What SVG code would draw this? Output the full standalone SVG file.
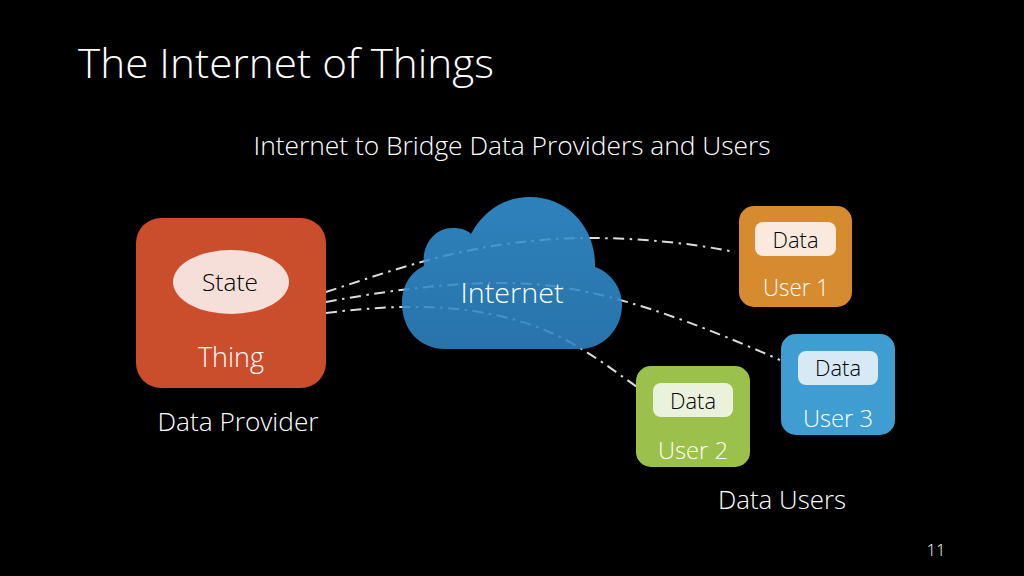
<svg xmlns="http://www.w3.org/2000/svg" width="1024" height="576" viewBox="0 0 1024 576">
<style>
text{font-family:"Open Sans","Noto Sans","Liberation Sans",sans-serif;font-weight:300;fill:#fff;text-anchor:middle}
.dk{fill:#000;font-size:23px}
.lb{font-size:24px}
.conn{fill:none;stroke:#dcdcdc;stroke-width:2;stroke-dasharray:11 5.500 2.500 5.500}
</style>
<defs>
<linearGradient id="cl" x1="0" y1="0" x2="0" y2="1"><stop offset="0" stop-color="#3494d6"/><stop offset="1" stop-color="#2e83c2"/></linearGradient>
</defs>
<rect width="1024" height="576" fill="#000"/>
<text x="286" y="78" style="font-size:41px" textLength="416" lengthAdjust="spacingAndGlyphs">The Internet of Things</text>
<text x="512" y="155" style="font-size:26px" textLength="517" lengthAdjust="spacingAndGlyphs">Internet to Bridge Data Providers and Users</text>
<g id="connectors">
<path class="conn" d="M326 292C400 268 480 238 590 238C640 238 690 243 735 252"/>
<path class="conn" d="M326 302C380 292 440 283 500 283C570 283 640 298 780 360"/>
<path class="conn" d="M326 313C400 304 470 302 540 328C580 344 610 368 637 387"/>
</g>
<g id="thing">
<rect x="136" y="218" width="190" height="170" rx="25" fill="#cb4e2c"/>
<ellipse cx="231" cy="282" rx="58" ry="32" fill="#f6dfd9"/>
<text class="dk" x="230" y="291" textLength="56" lengthAdjust="spacingAndGlyphs">State</text>
<text x="231" y="367" style="font-size:27px" textLength="66" lengthAdjust="spacingAndGlyphs">Thing</text>
</g>
<text id="provider" x="238" y="431" style="font-size:26px" textLength="161" lengthAdjust="spacingAndGlyphs">Data Provider</text>
<g id="internet">
<path d="M424 266C421 245 435 228 452 228C460 228 466 229 471 234C484 210 505 197 530 197C568 197 596 228 595 267C610 272 622 287 622 305C622 330 602 349 580 349L445 349C420 349 402 330 402 303C402 285 411 272 424 266Z" fill="url(#cl)" fill-opacity=".88"/>
<text x="512" y="303" style="font-size:28px" textLength="103" lengthAdjust="spacingAndGlyphs">Internet</text>
</g>
<g id="user1">
<rect x="739" y="206" width="113" height="101" rx="15" fill="#d68b2f"/>
<rect x="755" y="222" width="81" height="34" rx="8" fill="#faeadd"/>
<text class="dk" x="795.500" y="248" style="font-size:22px" textLength="46" lengthAdjust="spacingAndGlyphs">Data</text>
<text class="lb" x="796" y="296" textLength="66" lengthAdjust="spacingAndGlyphs">User 1</text>
</g>
<g id="user3">
<rect x="781" y="334" width="114" height="101" rx="15" fill="#409dd1"/>
<rect x="798" y="351" width="80" height="34" rx="8" fill="#d6e9f5"/>
<text class="dk" x="838" y="376" style="font-size:22px" textLength="46" lengthAdjust="spacingAndGlyphs">Data</text>
<text class="lb" x="838" y="427" textLength="70" lengthAdjust="spacingAndGlyphs">User 3</text>
</g>
<g id="user2">
<rect x="636" y="366" width="114" height="101" rx="15" fill="#9bc04c"/>
<rect x="653" y="383" width="80" height="34" rx="8" fill="#ebf2dc"/>
<text class="dk" x="693" y="409" style="font-size:22px" textLength="46" lengthAdjust="spacingAndGlyphs">Data</text>
<text class="lb" x="693" y="459" textLength="70" lengthAdjust="spacingAndGlyphs">User 2</text>
</g>
<text id="users" x="782" y="509" style="font-size:26px" textLength="128" lengthAdjust="spacingAndGlyphs">Data Users</text>
<text id="page" x="936" y="556" style="font-size:16px" textLength="19" lengthAdjust="spacingAndGlyphs">11</text>
</svg>
